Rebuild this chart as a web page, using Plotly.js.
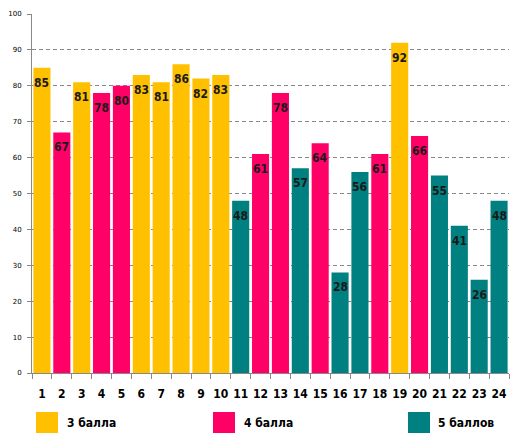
<!DOCTYPE html>
<html>
<head>
<meta charset="utf-8">
<script src="https://cdn.plot.ly/plotly-3.0.1.min.js"></script>
<style>html,body{margin:0;padding:0;background:#fff;}#chart{width:519px;height:448px;}</style>
</head>
<body>
<div id="chart"></div>
<script>
var categories = ['1','2','3','4','5','6','7','8','9','10','11','12','13','14','15','16','17','18','19','20','21','22','23','24'];
var values = [85,67,81,78,80,83,81,86,82,83,48,61,78,57,64,28,56,61,92,66,55,41,26,48];
var grades = [3,4,3,4,4,3,3,3,3,3,5,4,4,5,4,5,5,4,3,4,5,5,5,5];
var gradeNames = {3:'3 балла', 4:'4 балла', 5:'5 баллов'};
var gradeColors = {3:'#FFC000', 4:'#FF0066', 5:'#008080'};
var yTicks = [0,10,20,30,40,50,60,70,80,90,100];

var FONT = 'DejaVu Sans Condensed, DejaVu Sans';

var trace = {
  type: 'bar',
  x: categories,
  y: values,
  marker: {color: grades.map(function(g){return gradeColors[g];})},
  showlegend: false,
  hoverinfo: 'x+y'
};

var annotations = categories.map(function(c, i){
  return {x: i, y: values[i], xref: 'x', yref: 'y', text: String(values[i]),
    showarrow: false, yanchor: 'middle', yshift: -15,
    font: {family: FONT, size: 12, color: '#1a1a1a', weight: 'bold'}};
});

// plot area: left 32, width 477, top 14, height 359
var legendPx = [36, 213, 408];
var textPx = [65, 242, 436];
var shapes = [];
[3,4,5].forEach(function(g, k){
  shapes.push({type:'rect', xref:'paper', yref:'paper',
    x0: (legendPx[k]-32)/477, x1: (legendPx[k]+22-32)/477,
    y0: (373-433)/359, y1: (373-412)/359,
    fillcolor: gradeColors[g], line:{width:0}});
  annotations.push({xref:'paper', yref:'paper', x: (textPx[k]-32)/477, y: (373-423)/359,
    xanchor:'left', yanchor:'middle', showarrow:false, text: gradeNames[g],
    font:{family: FONT, size:12, color:'#000', weight:'bold'}});
});

var layout = {
  width: 519, height: 448,
  margin: {l: 32, r: 10, t: 14, b: 75},
  paper_bgcolor: '#fff', plot_bgcolor: '#fff',
  bargap: 0.14,
  xaxis: {
    type: 'category', showline: true, linecolor: '#888', linewidth: 1,
    ticks: 'outside', tickson: 'boundaries', ticklen: 5, tickcolor: '#888',
    tickangle: 0,
    tickfont: {family: FONT, size: 12, color: '#000', weight: 'bold'},
    showgrid: false, ticklabelstandoff: 10
  },
  yaxis: {
    range: [0, 100], tickvals: yTicks, ticktext: yTicks.map(String),
    showline: true, linecolor: '#888', linewidth: 1,
    ticks: 'outside', ticklen: 4, tickcolor: '#888',
    tickfont: {family: 'DejaVu Sans', size: 7, color: '#000'},
    ticklabelstandoff: 4,
    showgrid: true, gridcolor: '#888888', griddash: '4px,3px', gridwidth: 1,
    zeroline: false
  },
  shapes: shapes,
  annotations: annotations
};

Plotly.newPlot('chart', [trace], layout, {displayModeBar: false, staticPlot: true});
</script>
</body>
</html>
